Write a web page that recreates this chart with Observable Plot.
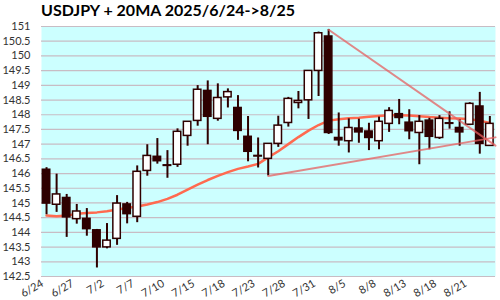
<!DOCTYPE html>
<html><head><meta charset="utf-8">
<script src="https://cdn.jsdelivr.net/npm/d3@7"></script>
<script src="https://cdn.jsdelivr.net/npm/@observablehq/plot@0.6"></script>
<style>
body{margin:0;background:#fff;width:500px;height:300px;overflow:hidden;}
#title{height:20px;line-height:22px;padding-left:41px;font:bold 16px Lato,sans-serif;color:#000;white-space:nowrap;}
</style></head><body>
<div id="title">USDJPY + 20MA 2025/6/24-&gt;8/25</div>
<div id="chart"></div>
<script>
const dates = ["6/24","6/25","6/26","6/27","6/30","7/1","7/2","7/3","7/4","7/7","7/8","7/9","7/10","7/11","7/14","7/15","7/16","7/17","7/18","7/21","7/22","7/23","7/24","7/25","7/28","7/29","7/30","7/31","8/1","8/4","8/5","8/6","8/7","8/8","8/11","8/12","8/13","8/14","8/15","8/18","8/19","8/20","8/21","8/22","8/25"];
const opens  = [146.13,144.94,145.17,144.45,144.46,144.07,143.49,143.78,144.95,144.53,146.09,146.57,146.28,146.30,147.28,147.79,148.81,147.86,148.59,148.23,147.25,146.60,146.50,147.01,147.72,148.40,148.49,149.49,150.66,147.21,147.10,147.53,147.43,147.10,147.69,148.02,147.73,147.38,147.80,147.21,147.71,147.55,147.66,148.28,146.94];
const highs  = [146.20,145.98,145.29,144.95,144.81,144.10,144.30,145.25,145.02,146.26,146.98,147.19,146.78,147.52,147.77,148.99,149.15,149.05,148.88,148.65,147.94,147.21,147.02,147.95,148.59,148.79,149.50,150.81,150.90,148.06,147.86,147.85,147.71,147.92,148.24,148.52,148.17,147.97,147.88,147.97,148.10,147.83,148.41,148.76,147.94];
const lows   = [144.60,144.68,143.83,144.28,143.87,142.79,143.44,143.56,144.29,144.33,145.91,146.32,145.84,146.21,146.93,147.61,146.98,147.78,148.23,147.13,146.40,146.19,145.92,146.89,147.58,148.20,147.84,148.62,147.33,146.93,146.70,147.03,146.78,146.81,147.40,147.66,147.15,146.30,146.81,147.16,147.51,146.93,147.63,146.66,146.94];
const closes = [144.98,145.29,144.51,144.71,144.11,143.49,143.72,144.98,144.62,146.06,146.60,146.42,146.26,147.42,147.76,148.85,147.93,148.57,148.77,147.45,146.74,146.58,147.01,147.63,148.54,148.47,149.49,150.77,147.38,147.13,147.55,147.40,147.21,147.76,148.13,147.89,147.44,147.76,147.25,147.86,147.69,147.40,148.37,147.01,147.69];
const ma20   = [144.57,144.55,144.57,144.63,144.66,144.68,144.72,144.78,144.83,144.88,144.95,145.03,145.14,145.28,145.45,145.62,145.78,145.92,146.05,146.16,146.24,146.33,146.55,146.76,147.00,147.24,147.46,147.65,147.80,147.85,147.88,147.90,147.93,147.96,147.98,147.98,147.97,147.95,147.92,147.90,147.88,147.87,147.85,147.80,147.72];
const upperX = [28, 44.56], upperY = [150.89, 146.95];
const lowerX = [22, 44.56], lowerY = [145.92, 147.23];
const yTicks = d3.range(142.5, 151.01, 0.5);
const xTicks = d3.range(0, 43, 3);

const candles = dates.map((d, i) => ({i, date: d, o: opens[i], h: highs[i], l: lows[i], c: closes[i], up: closes[i] >= opens[i]}));
const maData = ma20.map((v, i) => ({i, v}));
const upper = upperX.map((x, k) => ({x, y: upperY[k]}));
const lower = lowerX.map((x, k) => ({x, y: lowerY[k]}));
const dark = "#2e0000";

const chart = Plot.plot({
  width: 500, height: 280,
  marginTop: 6, marginBottom: 24, marginLeft: 41, marginRight: 5,
  style: {fontFamily: "Lato, sans-serif", fontSize: "11px", color: "#333", background: "transparent"},
  x: {domain: [-0.5, 44.56], label: null},
  y: {domain: [142.5, 151], label: null},
  marks: [
    Plot.frame({fill: "#ccffff", stroke: null}),
    Plot.ruleY(yTicks, {stroke: "#c8bcc4", strokeWidth: 1.2}),
    Plot.axisY({ticks: yTicks, tickFormat: d => String(+d.toFixed(1)), tickSize: 0, tickPadding: 11, label: null}),
    Plot.axisX({ticks: xTicks, tickFormat: i => dates[i], tickSize: 0, tickRotate: -30, tickPadding: 6, dx: -4, label: null}),
    Plot.line(maData, {x: "i", y: "v", stroke: "#ff6a50", strokeWidth: 2.5, curve: "linear"}),
    Plot.ruleX(candles, {x: "i", y1: "l", y2: "h", stroke: dark, strokeWidth: 2}),
    Plot.rect(candles, {x1: d => d.i - 0.37, x2: d => d.i + 0.37, y1: "o", y2: "c", fill: d => d.up ? "#ffffff" : dark, stroke: dark, strokeWidth: 1.5}),
    Plot.line(upper, {x: "x", y: "y", stroke: "#e66060", strokeOpacity: 0.75, strokeWidth: 2}),
    Plot.line(lower, {x: "x", y: "y", stroke: "#e66060", strokeOpacity: 0.75, strokeWidth: 2})
  ]
});
document.getElementById("chart").appendChild(chart);
</script>
</body></html>
